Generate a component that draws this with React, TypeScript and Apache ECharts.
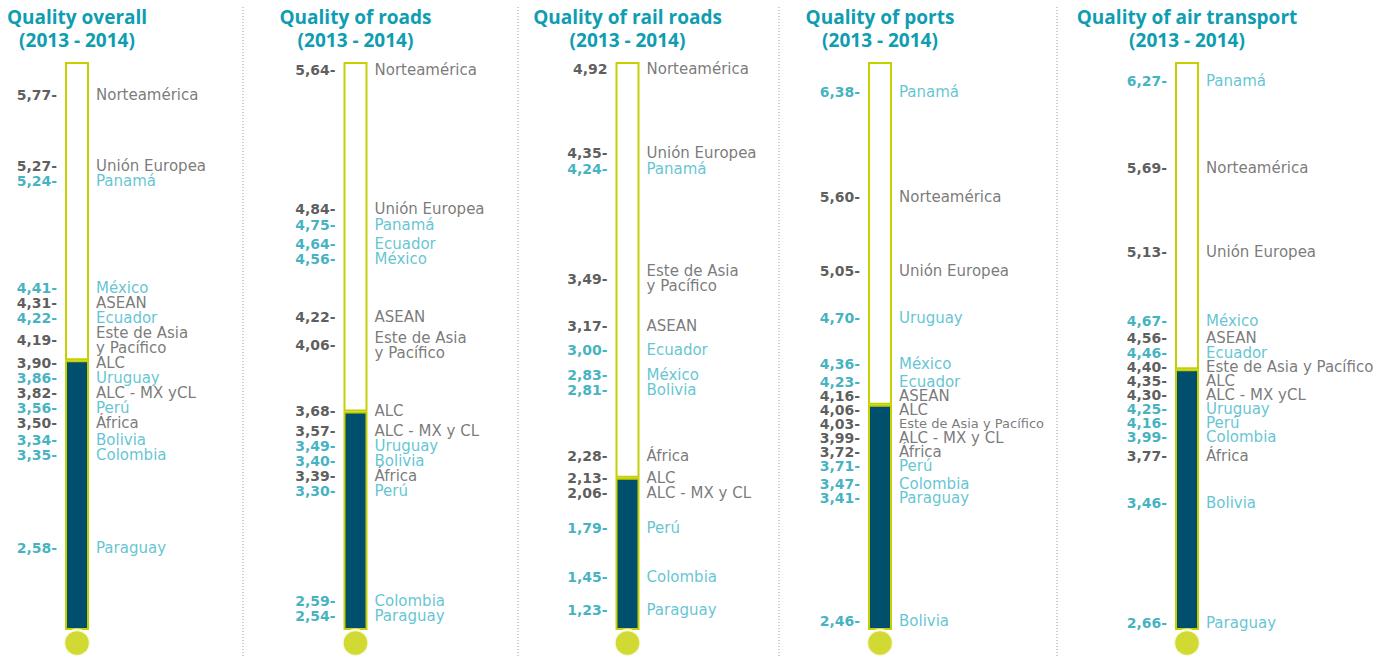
import React, { useEffect, useRef } from 'react';
import * as echarts from 'echarts';

// ---------- data ----------
const panelTitles = [
  'Quality overall',
  'Quality of roads',
  'Quality of rail roads',
  'Quality of ports',
  'Quality of air transport',
];
const periodLabel = '(2013 - 2014)';

const overallNames = ['Norteamérica', 'Unión Europea', 'Panamá', 'México', 'ASEAN', 'Ecuador', 'Este de Asia\ny Pacífico', 'ALC', 'Uruguay', 'ALC - MX yCL', 'Perú', 'África', 'Bolivia', 'Colombia', 'Paraguay'];
const overallValues = [5.77, 5.27, 5.24, 4.41, 4.31, 4.22, 4.19, 3.9, 3.86, 3.82, 3.56, 3.5, 3.34, 3.35, 2.58];

const roadsNames = ['Norteamérica', 'Unión Europea', 'Panamá', 'Ecuador', 'México', 'ASEAN', 'Este de Asia\ny Pacífico', 'ALC', 'ALC - MX y CL', 'Uruguay', 'Bolivia', 'África', 'Perú', 'Colombia', 'Paraguay'];
const roadsValues = [5.64, 4.84, 4.75, 4.64, 4.56, 4.22, 4.06, 3.68, 3.57, 3.49, 3.4, 3.39, 3.3, 2.59, 2.54];

const railNames = ['Norteamérica', 'Unión Europea', 'Panamá', 'Este de Asia\ny Pacífico', 'ASEAN', 'Ecuador', 'México', 'Bolivia', 'África', 'ALC', 'ALC - MX y CL', 'Perú', 'Colombia', 'Paraguay'];
const railValues = [4.92, 4.35, 4.24, 3.49, 3.17, 3.0, 2.83, 2.81, 2.28, 2.13, 2.06, 1.79, 1.45, 1.23];

const portsNames = ['Panamá', 'Norteamérica', 'Unión Europea', 'Uruguay', 'México', 'Ecuador', 'ASEAN', 'ALC', 'Este de Asia y Pacífico', 'ALC - MX y CL', 'África', 'Perú', 'Colombia', 'Paraguay', 'Bolivia'];
const portsValues = [6.38, 5.6, 5.05, 4.7, 4.36, 4.23, 4.16, 4.06, 4.03, 3.99, 3.72, 3.71, 3.47, 3.41, 2.46];

const airNames = ['Panamá', 'Norteamérica', 'Unión Europea', 'México', 'ASEAN', 'Ecuador', 'Este de Asia y Pacífico', 'ALC', 'ALC - MX yCL', 'Uruguay', 'Perú', 'Colombia', 'África', 'Bolivia', 'Paraguay'];
const airValues = [6.27, 5.69, 5.13, 4.67, 4.56, 4.46, 4.4, 4.35, 4.3, 4.25, 4.16, 3.99, 3.77, 3.46, 2.66];

// ALC level = thermometer fill
const fillValues = [3.9, 3.68, 2.13, 4.06, 4.35];
// value at tube bottom / tube top
const axisMin = [2.0, 2.425, 1.09, 2.39, 2.61];
const axisMax = [6.0, 5.686, 4.97, 6.6, 6.4];
// value labels printed without the trailing dash
const plainValueLabels = [[], [], [0], [], []];

const regionNames = ['Norteamérica', 'Unión Europea', 'ASEAN', 'Este de Asia y Pacífico', 'ALC', 'ALC - MX yCL', 'ALC - MX y CL', 'África'];

const panels = [
  { names: overallNames, values: overallValues },
  { names: roadsNames, values: roadsValues },
  { names: railNames, values: railValues },
  { names: portsNames, values: portsValues },
  { names: airNames, values: airValues },
];

// ---------- layout / style ----------
const W = 1389;
const H = 657;
const tubeTop = 62;
const tubeBottom = 630;
const tubeCenters = [77, 355.5, 627.5, 880, 1187];
const separatorsX = [243, 518, 779, 1057];
const rowStep = [15, 15, 15, 14, 14];
const condensedLong = [false, false, false, true, false];

const GREEN = '#c5d000';
const NAVY = '#004f6d';
const TITLE = '#0e9db1';
const VAL_TEAL = '#129eb2';
const NAME_TEAL = '#3bb6c8';
const VAL_DARK = '#333333';
const NAME_DARK = '#585858';

const isRegion = (n: string) => regionNames.includes(n.replace('\n', ' '));
const fmt = (v: number, p: number, i: number) =>
  v.toFixed(2).replace('.', ',') + ((plainValueLabels[p] as number[]).includes(i) ? '' : '-');

function pushDown(ys: number[], hs: number[]) {
  const out: number[] = [];
  let prevBottom = -Infinity;
  for (let i = 0; i < ys.length; i++) {
    const c = Math.max(ys[i], prevBottom + hs[i] / 2);
    out.push(c);
    prevBottom = c + hs[i] / 2;
  }
  return out;
}

function buildOption(offsets: number[][] | null) {
  const grid: any[] = [];
  const xAxis: any[] = [];
  const yAxis: any[] = [];
  const series: any[] = [];
  const title: any[] = [];

  panels.forEach((pn, p) => {
    grid.push({ left: tubeCenters[p] - 13, top: tubeTop, width: 26, height: tubeBottom - tubeTop });
    xAxis.push({ gridIndex: p, type: 'category', data: ['t'], show: false });
    yAxis.push({ gridIndex: p, type: 'value', min: axisMin[p], max: axisMax[p], show: false });
    title.push({
      text: panelTitles[p] + '\n' + periodLabel,
      left: tubeCenters[p],
      top: 5,
      padding: 0,
      textAlign: 'center',
      textStyle: { fontFamily: 'Open Sans', fontWeight: 'bold', fontSize: 19, lineHeight: 23, color: TITLE },
    });
    const stack = 'tube' + p;
    const common = { xAxisIndex: p, yAxisIndex: p, stack, barWidth: 24, clip: false, silent: true };
    series.push({ ...common, type: 'bar', data: [axisMin[p]], itemStyle: { color: 'transparent' } });
    series.push({
      ...common,
      type: 'bar',
      data: [fillValues[p] - axisMin[p]],
      itemStyle: { color: NAVY, borderColor: GREEN, borderWidth: 2 },
    });
    series.push({
      ...common,
      type: 'bar',
      data: [axisMax[p] - fillValues[p]],
      itemStyle: { color: '#ffffff', borderColor: GREEN, borderWidth: 2 },
    });
    // bulb
    series.push({
      type: 'scatter',
      xAxisIndex: p,
      yAxisIndex: p,
      clip: false,
      silent: true,
      z: 5,
      data: [[0, axisMin[p]]],
      symbol: 'circle',
      symbolSize: 26,
      symbolOffset: [0, 13],
      itemStyle: { color: GREEN, borderColor: '#ffffff', borderWidth: 2.5 },
    });
    const lh = rowStep[p];
    // value labels (left)
    series.push({
      type: 'scatter',
      xAxisIndex: p,
      yAxisIndex: p,
      clip: false,
      silent: true,
      z: 6,
      symbol: 'rect',
      symbolSize: [26, 1],
      itemStyle: { color: 'transparent' },
      data: pn.values.map((v, i) => ({
        value: [0, v],
        label: {
          show: true,
          position: 'left',
          distance: 7,
          offset: [0, offsets ? offsets[p][i] : 0],
          formatter: fmt(v, p, i),
          fontFamily: 'DejaVu Sans',
          fontWeight: 'bold',
          fontSize: 14,
          lineHeight: lh,
          color: isRegion(pn.names[i]) ? VAL_DARK : VAL_TEAL,
        },
      })),
    });
    // name labels (right)
    series.push({
      type: 'scatter',
      xAxisIndex: p,
      yAxisIndex: p,
      clip: false,
      silent: true,
      z: 6,
      symbol: 'rect',
      symbolSize: [26, 1],
      itemStyle: { color: 'transparent' },
      data: pn.values.map((v, i) => ({
        value: [0, v],
        label: {
          show: true,
          position: 'right',
          distance: 6,
          offset: [0, offsets ? offsets[p][i] : 0],
          formatter: pn.names[i],
          fontFamily: 'DejaVu Sans',
          fontSize: condensedLong[p] && pn.names[i].length > 20 ? 13 : 15,
          lineHeight: lh,
          color: isRegion(pn.names[i]) ? NAME_DARK : NAME_TEAL,
        },
      })),
    });
  });

  const graphic = separatorsX.map((x) => ({
    type: 'line',
    silent: true,
    shape: { x1: x, y1: 7, x2: x, y2: H },
    style: { stroke: '#9a9a9a', lineWidth: 1, lineDash: [1, 2] },
  }));

  return { animation: false, backgroundColor: '#ffffff', title, grid, xAxis, yAxis, series, graphic };
}

export default function App() {
  const ref = useRef<HTMLDivElement>(null);
  useEffect(() => {
    if (!ref.current) return;
    const chart = echarts.init(ref.current, null, { renderer: 'svg' });
    chart.setOption(buildOption(null) as any);
    const offsets = panels.map((pn, p) => {
      const ys = pn.values.map((v) => (chart.convertToPixel({ gridIndex: p } as any, [0, v]) as number[])[1]);
      const hs = pn.names.map((n) => (n.includes('\n') ? 2 : 1) * rowStep[p]);
      const centers = pushDown(ys, hs);
      return centers.map((c, i) => c - ys[i]);
    });
    chart.setOption(buildOption(offsets) as any, true);
    return () => chart.dispose();
  }, []);
  return <div ref={ref} style={{ position: 'absolute', left: 0, top: 0, width: W, height: H }} />;
}
